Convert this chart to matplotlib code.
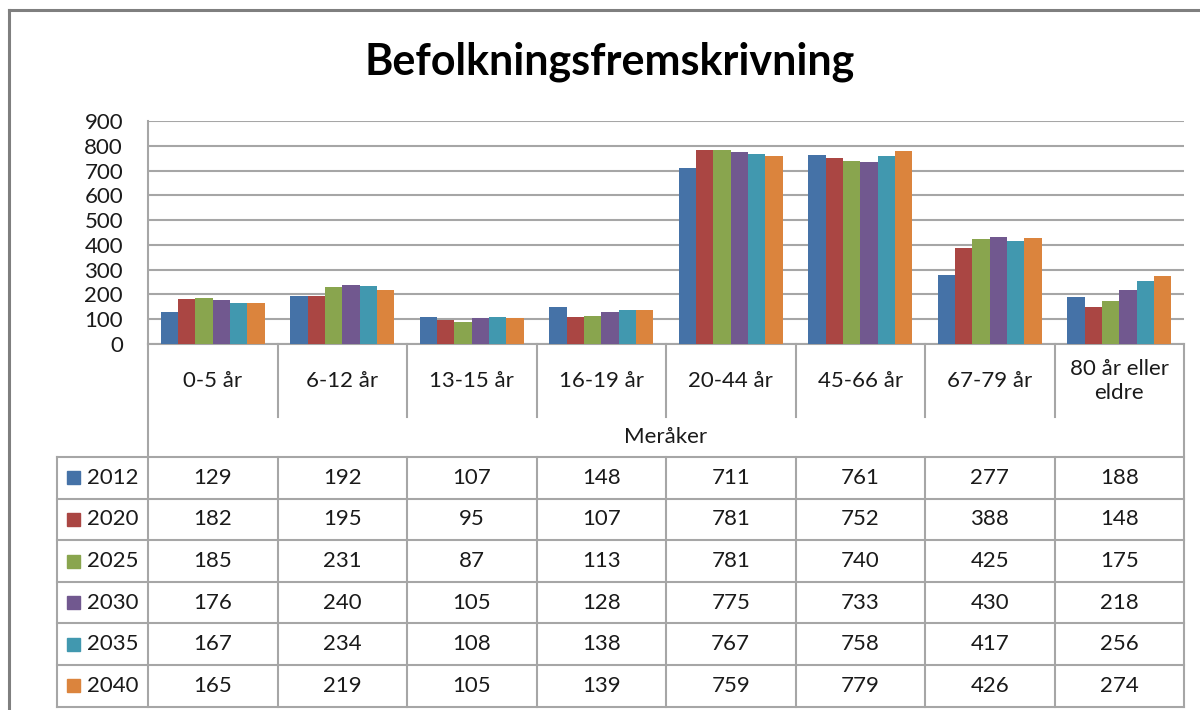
import numpy as np
import matplotlib
matplotlib.use("Agg")
import matplotlib.pyplot as plt
from matplotlib.patches import Rectangle

plt.rcParams['font.family'] = ['Lato', 'DejaVu Sans']

# Data
categories = ['0-5 år', '6-12 år', '13-15 år', '16-19 år', '20-44 år',
              '45-66 år', '67-79 år', '80 år eller\neldre']
years = ['2012', '2020', '2025', '2030', '2035', '2040']
v2012 = [129, 192, 107, 148, 711, 761, 277, 188]
v2020 = [182, 195, 95, 107, 781, 752, 388, 148]
v2025 = [185, 231, 87, 113, 781, 740, 425, 175]
v2030 = [176, 240, 105, 128, 775, 733, 430, 218]
v2035 = [167, 234, 108, 138, 767, 758, 417, 256]
v2040 = [165, 219, 105, 139, 759, 779, 426, 274]
series = [v2012, v2020, v2025, v2030, v2035, v2040]
group_label = 'Meråker'
title = 'Befolkningsfremskrivning'

colors = ['#4572A7', '#AA4643', '#89A54E', '#71588F', '#4198AF', '#DB843D']
line_col = '#A6A6A6'
text_col = '#1a1a1a'
fs = 16

W, H = 1200, 710
fig = plt.figure(figsize=(W / 100, H / 100), dpi=100)

# pixel layout
px_left, px_right = 148, 1184
px_top, px_bottom = 121, 344

ax = fig.add_axes([px_left / W, 1 - px_bottom / H,
                   (px_right - px_left) / W, (px_bottom - px_top) / H])
n = len(categories)
x = np.arange(n)
bw = 0.8 / len(series)
for i, vals in enumerate(series):
    ax.bar(x - 0.4 + bw * (i + 0.5), vals, width=bw, color=colors[i],
           edgecolor='none', label=years[i], zorder=3)
ax.set_xlim(-0.5, n - 0.5)
ax.set_ylim(0, 900)
ax.set_yticks(range(0, 901, 100))
ax.yaxis.grid(True, color=line_col, linewidth=1.5, zorder=0)
ax.set_xticks([])
ax.tick_params(axis='y', length=0, pad=18, labelsize=fs, labelcolor=text_col)
for s in ['top', 'right']:
    ax.spines[s].set_visible(False)
for s in ['left', 'bottom']:
    ax.spines[s].set_color(line_col)
    ax.spines[s].set_linewidth(1.5)

# overlay in pixel coordinates for the data table
ov = fig.add_axes([0, 0, 1, 1], zorder=5)
ov.set_xlim(0, W)
ov.set_ylim(H, 0)
ov.axis('off')
ov.patch.set_alpha(0)

col_w = (px_right - px_left) / n
tab_left = 57
sep_bottom = 417
tab_top = 457
row_h = 41.6

# outer chart frame
ov.plot([8.5, 8.5], [9.5, H], color='#7f7f7f', lw=2.2)
ov.plot([8.5, W], [9.5, 9.5], color='#7f7f7f', lw=2.2)

ov.text(610, 62, title, ha='center', va='center',
        fontsize=31, fontweight='bold', color='black')

# category header
for j in range(1, n):
    xs = px_left + j * col_w
    ov.plot([xs, xs], [px_bottom, sep_bottom], color=line_col, lw=1.5)
for j, c in enumerate(categories):
    ov.text(px_left + (j + 0.5) * col_w, 381, c, ha='center', va='center',
            fontsize=fs, color=text_col, linespacing=1.3)
ov.text((px_left + px_right) / 2, 437, group_label, ha='center',
        va='center', fontsize=fs, color=text_col)
ov.plot([px_left, px_left], [px_bottom, tab_top + row_h * len(series)],
        color=line_col, lw=1.5)
ov.plot([px_right, px_right], [px_bottom, tab_top + row_h * len(series)],
        color=line_col, lw=1.5)

# data table
nrows = len(series)
tab_bottom = tab_top + row_h * nrows
for r in range(nrows + 1):
    yy = tab_top + r * row_h
    ov.plot([tab_left, px_right], [yy, yy], color=line_col, lw=1.5)
ov.plot([tab_left, tab_left], [tab_top, tab_bottom], color=line_col, lw=1.5)
for j in range(1, n):
    xs = px_left + j * col_w
    ov.plot([xs, xs], [tab_top, tab_bottom], color=line_col, lw=1.5)
for r, vals in enumerate(series):
    yc = tab_top + (r + 0.5) * row_h
    ov.add_patch(Rectangle((67, yc - 6.5), 13, 13, color=colors[r]))
    ov.text(87, yc, years[r], ha='left', va='center', fontsize=fs,
            color=text_col)
    for j, v in enumerate(vals):
        ov.text(px_left + (j + 0.5) * col_w, yc, str(v), ha='center',
                va='center', fontsize=fs, color=text_col)

fig.savefig('out.png', dpi=100, facecolor='white')
